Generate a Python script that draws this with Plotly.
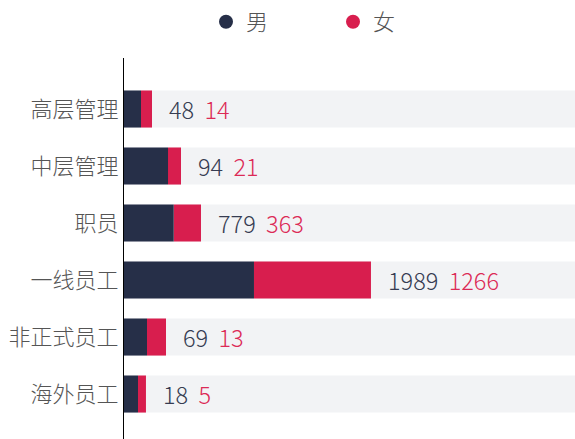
import plotly.graph_objects as go

# ---- data ----
categories = ["高层管理", "中层管理", "职员", "一线员工", "非正式员工", "海外员工"]
male_count = [48, 94, 779, 1989, 69, 18]
female_count = [14, 21, 363, 1266, 13, 5]
# bar lengths as drawn (share of the full track, in %)
male_bar = [3.77, 9.76, 11.02, 28.82, 5.10, 3.10]
female_bar = [2.44, 2.88, 6.05, 25.94, 4.21, 1.77]
track_max = 100
series_names = ["男", "女"]

MALE_C = "#262f48"
FEMALE_C = "#d81e4e"
TRACK_C = "#f2f3f5"
MALE_TXT = "#363c52"
FEMALE_TXT = "#dc2a56"
FONT = "Noto Sans CJK SC"

fig = go.Figure()

fig.add_trace(go.Bar(
    y=categories, x=[track_max] * len(categories), orientation="h",
    marker=dict(color=TRACK_C, line=dict(width=0)), showlegend=False, hoverinfo="skip"))
fig.add_trace(go.Bar(
    y=categories, x=female_bar, base=male_bar, orientation="h",
    marker=dict(color=FEMALE_C, line=dict(width=0)), showlegend=False, name=series_names[1],
    legendgroup="f"))
fig.add_trace(go.Bar(
    y=categories, x=male_bar, orientation="h",
    marker=dict(color=MALE_C, line=dict(width=0)), showlegend=False, name=series_names[0],
    legendgroup="m"))

# legend entries (circle markers)
fig.add_trace(go.Scatter(x=[None], y=[None], mode="markers", name=series_names[0],
                         marker=dict(size=14, color=MALE_C), legendgroup="m"))
fig.add_trace(go.Scatter(x=[None], y=[None], mode="markers", name=series_names[1],
                         marker=dict(size=14, color=FEMALE_C), legendgroup="f"))

for cat, m, f, mc, fc in zip(categories, male_bar, female_bar, male_count, female_count):
    fig.add_annotation(
        x=m + f, y=cat, xref="x", yref="y", xanchor="left", yanchor="middle",
        xshift=15, showarrow=False,
        text=f"<span style='color:{MALE_TXT}'>{mc}</span>&nbsp;&nbsp;"
             f"<span style='color:{FEMALE_TXT}'>{fc}</span>",
        font=dict(family=FONT, size=23.5, weight=300))

fig.update_layout(
    width=575, height=439,
    margin=dict(l=124, r=0, t=58, b=0, autoexpand=False),
    paper_bgcolor="white", plot_bgcolor="white",
    barmode="overlay", bargap=0.35,
    font=dict(family=FONT, size=21, color="#555555", weight=300),
    legend=dict(orientation="h", xref="container", yref="container",
                x=206 / 575, xanchor="left", y=1 - 22 / 439, yanchor="middle",
                entrywidth=82, font=dict(size=22, color="#555555", family=FONT, weight=300),
                bgcolor="rgba(0,0,0,0)"),
    showlegend=True,
)
fig.update_xaxes(range=[0, track_max], visible=False, fixedrange=True, automargin=False)
fig.update_yaxes(type="category", categoryorder="array", categoryarray=categories,
                 range=[5.789, -0.895], showline=True, linecolor="#000000", linewidth=1,
                 showgrid=False, zeroline=False, ticks="", ticklabelstandoff=0,
                 automargin=False,
                 tickfont=dict(size=22, color="#555555", family=FONT, weight=300))

fig.write_html(
    "out.html",
    config={"displayModeBar": False},
    post_script="document.body.style.margin='0';document.body.style.overflow='hidden';",
)
